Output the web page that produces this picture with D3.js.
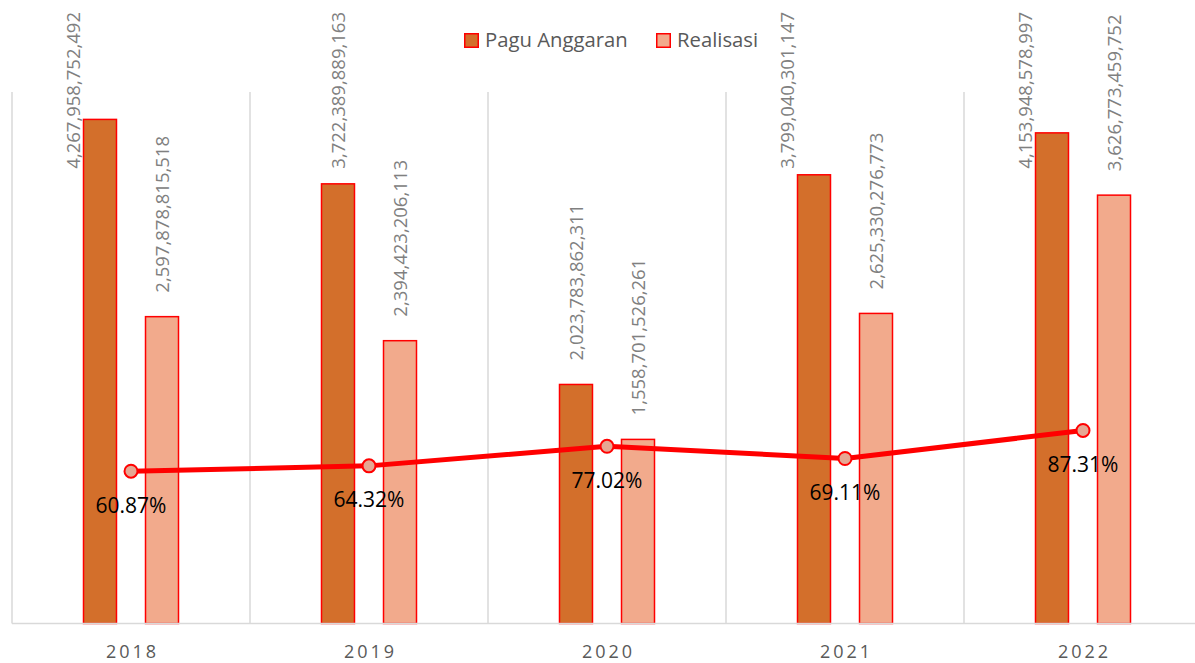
<!DOCTYPE html>
<html>
<head>
<meta charset="utf-8">
<script src="https://cdn.jsdelivr.net/npm/d3@7"></script>
<style>
  html, body { margin: 0; padding: 0; background: #ffffff; }
  svg { display: block; font-family: "Open Sans", "Noto Sans", sans-serif; }
</style>
</head>
<body>
<svg id="chart" width="1195" height="663"></svg>
<script>
// Budget (Pagu Anggaran) vs. realisation (Realisasi) per year, with realisation rate
const years = ["2018", "2019", "2020", "2021", "2022"];
const paguAnggaran = [4267958752492, 3722389889163, 2023783862311, 3799040301147, 4153948578997];
const realisasi = [2597878815518, 2394423206113, 1558701526261, 2625330276773, 3626773459752];
const persentase = [60.87, 64.32, 77.02, 69.11, 87.31];
const seriesNames = ["Pagu Anggaran", "Realisasi"];

const colors = {
  pagu: "#D36F2B",
  real: "#F2AA8C",
  stroke: "#FF0000",
  marker: "#E6A793",
  grid: "#D9D9D9",
  axisText: "#595959",
  label: "#808080"
};

const svg = d3.select("#chart");
const W = 1195, H = 663;
const plot = { left: 12, right: 1202, top: 92, bottom: 623.5 };

const x0 = d3.scaleBand().domain(years).range([plot.left, plot.right]).padding(0);
const x1 = d3.scaleBand().domain(seriesNames).range([-47.5, 47.5]).paddingInner(0.468);
const y = d3.scaleLinear().domain([0, 4.5e12]).range([plot.bottom, plot.top]);
const y2 = d3.scaleLinear().domain([-38, 307]).range([plot.bottom, plot.top]);

const center = yr => x0(yr) + x0.bandwidth() / 2;

// vertical category gridlines
svg.append("g")
  .selectAll("line")
  .data(years)
  .join("line")
  .attr("x1", d => x0(d)).attr("x2", d => x0(d))
  .attr("y1", plot.top).attr("y2", plot.bottom)
  .attr("stroke", colors.grid).attr("stroke-width", 1.5);

// bars
const rows = years.map((yr, i) => ({
  year: yr,
  values: [
    { key: seriesNames[0], v: paguAnggaran[i], fill: colors.pagu },
    { key: seriesNames[1], v: realisasi[i], fill: colors.real }
  ]
}));

const groups = svg.append("g").selectAll("g")
  .data(rows).join("g")
  .attr("transform", d => `translate(${center(d.year)},0)`);

groups.selectAll("rect")
  .data(d => d.values)
  .join("rect")
  .attr("x", d => x1(d.key))
  .attr("width", x1.bandwidth())
  .attr("y", d => y(d.v))
  .attr("height", d => y(0) - y(d.v))
  .attr("fill", d => d.fill)
  .attr("stroke", colors.stroke)
  .attr("stroke-width", 1.5);

// x axis line
svg.append("line")
  .attr("x1", plot.left).attr("x2", W)
  .attr("y1", plot.bottom).attr("y2", plot.bottom)
  .attr("stroke", colors.grid).attr("stroke-width", 1.5);

// x axis labels
svg.append("g")
  .selectAll("text")
  .data(years)
  .join("text")
  .attr("x", d => center(d) + 1.5)
  .attr("y", 658)
  .attr("text-anchor", "middle")
  .attr("font-size", 18)
  .attr("letter-spacing", 3)
  .attr("fill", colors.axisText)
  .text(d => d);

// rotated value labels above bars; kept inside the top edge,
// moved beside the bar when they would run into it
const fmt = d3.format(",.0f");
const labelTop = 12, labelGap = 24, minGap = 10;
groups.each(function (row) {
  const g = d3.select(this);
  row.values.forEach(d => {
    const t = g.append("text")
      .attr("font-size", 18.5)
      .attr("fill", colors.label)
      .attr("dy", "0.36em")
      .text(fmt(d.v));
    const len = t.node().getComputedTextLength();
    const barTop = y(d.v);
    let bottom = Math.max(barTop - labelGap, labelTop + len);
    let cx = x1(d.key) + x1.bandwidth() / 2;
    if (barTop - bottom < minGap) cx = x1(d.key) - 10;
    t.attr("transform", `translate(${cx},${bottom}) rotate(-90)`);
  });
});

// realisation rate line
const pts = years.map((yr, i) => ({ x: center(yr), y: y2(persentase[i]), p: persentase[i] }));
svg.append("path")
  .datum(pts)
  .attr("d", d3.line().x(d => d.x).y(d => d.y))
  .attr("fill", "none")
  .attr("stroke", colors.stroke)
  .attr("stroke-width", 5)
  .attr("stroke-linejoin", "round");

svg.append("g").selectAll("circle")
  .data(pts).join("circle")
  .attr("cx", d => d.x).attr("cy", d => d.y).attr("r", 6.5)
  .attr("fill", colors.marker)
  .attr("stroke", colors.stroke)
  .attr("stroke-width", 2);

svg.append("g").selectAll("text")
  .data(pts).join("text")
  .attr("x", d => d.x)
  .attr("y", d => d.y + 41.5)
  .attr("text-anchor", "middle")
  .attr("font-size", 21)
  .attr("fill", "#000000")
  .text(d => d3.format(".2f")(d.p) + "%");

// legend
const legend = svg.append("g");
const legendItems = [
  { name: seriesNames[0], fill: colors.pagu, x: 464 },
  { name: seriesNames[1], fill: colors.real, x: 656 }
];
legendItems.forEach(it => {
  legend.append("rect")
    .attr("x", it.x + 0.75).attr("y", 33.75)
    .attr("width", 13.5).attr("height", 13.5)
    .attr("fill", it.fill)
    .attr("stroke", colors.stroke).attr("stroke-width", 1.5);
  legend.append("text")
    .attr("x", it.x + 21).attr("y", 47)
    .attr("font-size", 20.3)
    .attr("fill", colors.axisText)
    .text(it.name);
});
</script>
</body>
</html>
